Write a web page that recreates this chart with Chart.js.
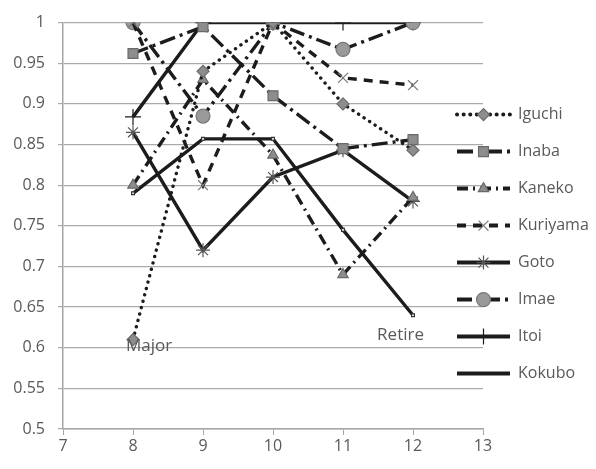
<!DOCTYPE html>
<html lang="en">
<head>
  <meta charset="UTF-8" />
  <title>Ratio by season</title>
  <script src="https://cdn.jsdelivr.net/npm/chart.js"></script>
  <style>
    body { margin: 0; background: #fff; }
    #wrap { width: 596px; height: 469px; }
  </style>
</head>
<body>
  <div id="wrap"><canvas id="chart" width="596" height="469"></canvas></div>

  <script>
    // x positions (season) and values
    const seasons = [8, 9, 10, 11, 12];

    const iguchi   = [0.61, 0.94, 1.0, 0.90, 0.843];
    const inaba    = [0.962, 0.995, 0.91, 0.845, 0.856];
    const kaneko   = [0.80, 0.93, 0.837, 0.69, 0.785];
    const kuriyama = [1.0, 0.80, 1.0, 0.932, 0.923];
    const goto     = [0.865, 0.72, 0.81, 0.843, 0.78];
    const imae     = [1.0, 0.885, 1.0, 0.967, 1.0];
    const itoi     = [0.884, 1.0, 1.0, 1.0, 1.0];
    const kokubo   = [0.79, 0.857, 0.857, 0.745, 0.64];

    const names = ["Iguchi", "Inaba", "Kaneko", "Kuriyama", "Goto", "Imae", "Itoi", "Kokubo"];
    const series = [iguchi, inaba, kaneko, kuriyama, goto, imae, itoi, kokubo];

    // text notes placed in data space
    const notes = [
      { text: "Major",  x: 8,  y: 0.602, align: "left",  dx: -7 },
      { text: "Retire", x: 12, y: 0.615, align: "right", dx: 11 }
    ];

    const LINE = "#1c1c1c";
    const MARK = "#8d8d8d";
    const MARK_EDGE = "#6a6a6a";
    const FONT = "'Open Sans', sans-serif";

    // one style per series (same order as names)
    const styles = [
      { dash: [0.1, 6.5], cap: "round", point: "rectRot", r: 6, fill: MARK, edge: MARK_EDGE, key: true },
      { dash: [16, 5, 3, 5], cap: "butt", point: "rect", r: 7, fill: MARK, edge: MARK_EDGE, key: true },
      { dash: [11, 5, 2, 5], cap: "butt", point: "triangle", r: 6, fill: MARK, edge: MARK_EDGE, key: true },
      { dash: [9, 7], cap: "butt", point: "crossRot", r: 7, fill: MARK, edge: "#777", key: true },
      { dash: [], cap: "butt", point: "star", r: 7, fill: MARK, edge: "#555", key: true },
      { dash: [15, 5, 3, 5], cap: "butt", point: "circle", r: 7, fill: "#9a9a9a", edge: "#777", key: true },
      { dash: [], cap: "butt", point: "cross", r: 8, fill: LINE, edge: LINE, key: true },
      { dash: [], cap: "butt", point: "rect", r: 2, fill: "#fff", edge: "#333", key: false }
    ];

    const datasets = names.map((name, i) => ({
      label: name,
      data: seasons.map((s, j) => ({ x: s, y: series[i][j] })),
      borderColor: LINE,
      borderWidth: 3.4,
      borderDash: styles[i].dash,
      borderCapStyle: styles[i].cap,
      pointStyle: styles[i].point,
      pointRadius: styles[i].r,
      pointBackgroundColor: styles[i].fill,
      pointBorderColor: styles[i].edge,
      pointBorderWidth: 1.2,
      tension: 0,
      fill: false
    }));

    // notes + legend drawn on the canvas
    const extras = {
      id: "extras",
      afterDatasetsDraw(chart) {
        const ctx = chart.ctx;
        const xs = chart.scales.x, ys = chart.scales.y;
        ctx.save();
        ctx.font = "17px " + FONT;
        ctx.fillStyle = "#595959";
        ctx.textBaseline = "middle";
        notes.forEach(n => {
          ctx.textAlign = n.align;
          ctx.fillText(n.text, xs.getPixelForValue(n.x) + n.dx, ys.getPixelForValue(n.y));
        });
        ctx.restore();
      },
      afterDraw(chart) {
        const ctx = chart.ctx;
        const area = chart.chartArea;
        const x0 = area.right - 26, x1 = x0 + 53;
        const top = area.top + 92, step = 37;
        chart.data.datasets.forEach((ds, i) => {
          const y = top + i * step;
          ctx.save();
          ctx.strokeStyle = ds.borderColor;
          ctx.lineWidth = 4;
          ctx.lineCap = ds.borderCapStyle;
          ctx.setLineDash(ds.borderDash);
          ctx.beginPath();
          ctx.moveTo(x0, y);
          ctx.lineTo(x1, y);
          ctx.stroke();
          ctx.restore();
          if (styles[i].key) {
            ctx.save();
            ctx.fillStyle = ds.pointBackgroundColor;
            ctx.strokeStyle = ds.pointBorderColor;
            ctx.lineWidth = ds.pointBorderWidth;
            Chart.helpers.drawPoint(ctx, { pointStyle: ds.pointStyle, radius: ds.pointRadius, rotation: 0, borderWidth: ds.pointBorderWidth }, (x0 + x1) / 2, y);
            ctx.restore();
          }
          ctx.save();
          ctx.font = "16px " + FONT;
          ctx.fillStyle = "#595959";
          ctx.textAlign = "left";
          ctx.textBaseline = "middle";
          ctx.fillText(ds.label, x1 + 8, y);
          ctx.restore();
        });
      }
    };

    new Chart(document.getElementById("chart"), {
      type: "line",
      data: { datasets },
      plugins: [extras],
      options: {
        responsive: false,
        animation: false,
        layout: { padding: { top: 19, right: 113, left: 0, bottom: 0 } },
        plugins: { legend: { display: false }, tooltip: { enabled: false } },
        scales: {
          x: {
            type: "linear",
            min: 7,
            max: 13,
            ticks: { stepSize: 1, color: "#595959", font: { family: FONT, size: 16 }, padding: 2 },
            grid: { drawOnChartArea: false, drawTicks: true, tickLength: 6, color: "#a6a6a6" },
            border: { color: "#a6a6a6", width: 1.5 },
            afterFit(scale) { scale.height = 40; }
          },
          y: {
            min: 0.5,
            max: 1,
            ticks: {
              stepSize: 0.05,
              color: "#595959",
              font: { family: FONT, size: 16 },
              padding: 13,
              callback: v => String(Number(v.toFixed(2)))
            },
            grid: { color: "#ababab", lineWidth: 1.2, tickLength: 5 },
            border: { color: "#a6a6a6", width: 1.5 },
            afterFit(scale) { scale.width = 63; }
          }
        }
      }
    });
  </script>
</body>
</html>
